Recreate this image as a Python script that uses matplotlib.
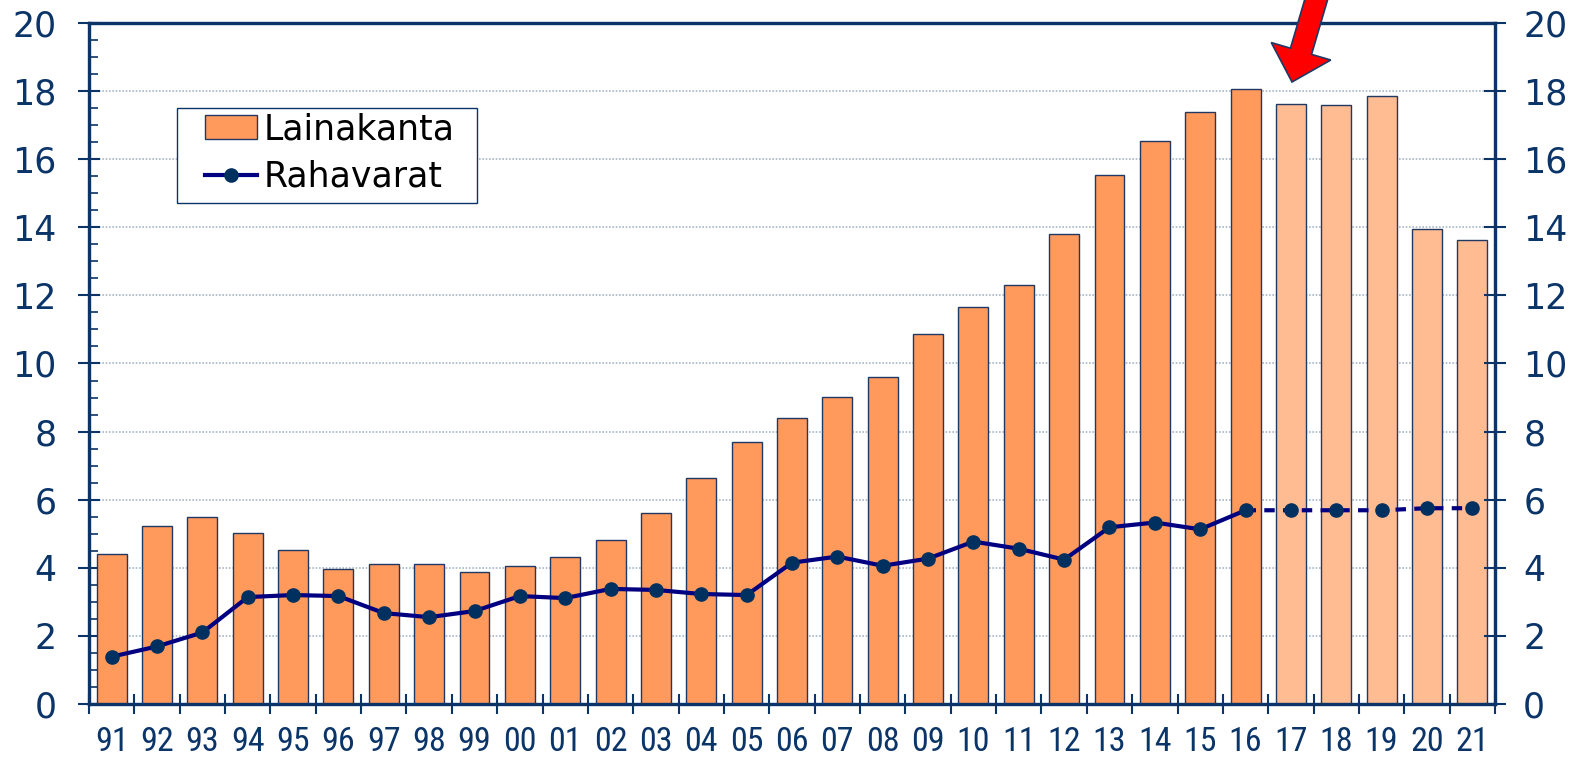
import matplotlib
matplotlib.use("Agg")
import matplotlib.pyplot as plt
from matplotlib.patches import FancyArrow, Patch, Rectangle
from matplotlib.lines import Line2D
from matplotlib.transforms import IdentityTransform
from matplotlib import font_manager
import numpy as np

years = ["91", "92", "93", "94", "95", "96", "97", "98", "99", "00", "01", "02", "03", "04",
         "05", "06", "07", "08", "09", "10", "11", "12", "13", "14", "15", "16", "17", "18",
         "19", "20", "21"]
lainakanta = [4.41, 5.24, 5.48, 5.01, 4.53, 3.97, 4.12, 4.12, 3.88, 4.06, 4.33, 4.83, 5.60, 6.64,
              7.70, 8.41, 9.01, 9.60, 10.87, 11.67, 12.30, 13.81, 15.53, 16.53, 17.39, 18.07,
              17.63, 17.60, 17.87, 13.96, 13.63]
rahavarat = [1.39, 1.69, 2.10, 3.14, 3.20, 3.17, 2.67, 2.55, 2.73, 3.17, 3.11, 3.38, 3.35, 3.23,
             3.20, 4.15, 4.33, 4.06, 4.27, 4.77, 4.56, 4.24, 5.19, 5.33, 5.13, 5.69, 5.69, 5.69,
             5.69, 5.75, 5.75]
n_actual = 26  # 91..16 actual, 17..21 forecast

NAVY = "#0B3468"
BAR_DARK = "#FF9A5C"
BAR_LIGHT = "#FFBB92"
BAR_EDGE = "#1F3864"
LINE = "#000080"
MARK = "#00305F"

names = {f.name for f in font_manager.fontManager.ttflist}
narrow = None
for cand in ["Liberation Sans Narrow", "Arial Narrow", "Roboto Condensed", "Open Sans Condensed",
             "DejaVu Sans Condensed"]:
    if cand in names:
        narrow = cand
        break

W, H = 1584, 760
fig = plt.figure(figsize=(W/100, H/100), dpi=100)
AX_L, AX_R, AX_T, AX_B = 89, 1495, 23, 704
ax = fig.add_axes([AX_L/W, 1 - AX_B/H, (AX_R-AX_L)/W, (AX_B-AX_T)/H])

def ax_frac(px, py):
    return ((px - AX_L) / (AX_R - AX_L), (AX_B - py) / (AX_B - AX_T))

x = np.arange(len(years))
colors = [BAR_DARK if i < n_actual else BAR_LIGHT for i in range(len(years))]
ax.bar(x, lainakanta, width=0.66, color=colors, edgecolor=BAR_EDGE, linewidth=1.0, zorder=2)

ax.plot(x[:n_actual], rahavarat[:n_actual], color=LINE, lw=3, zorder=3)
ax.plot(x[n_actual-1:], rahavarat[n_actual-1:], color=LINE, lw=3, ls=(0, (2.5, 2)), zorder=3)
ax.plot(x, rahavarat, ls="none", marker="o", ms=9.5, color=MARK, zorder=4)

ax.set_xlim(-0.5, len(years) - 0.5)
ax.set_ylim(0, 20)
ax.set_yticks(np.arange(0, 21, 2))
ax.set_yticks(np.arange(0, 20.01, 0.5), minor=True)
ax.yaxis.grid(True, which="major", ls=(0, (1, 1)), color="#A9B6C8", lw=1.2, zorder=0)
ax.set_axisbelow(True)

ax.set_xticks(np.arange(-0.5, len(years), 1.0))
ax.set_xticklabels([])
ax.set_xticks(x, minor=True)
if narrow:
    ax.set_xticklabels(years, minor=True, family=[narrow, "DejaVu Sans"], fontsize=24.5,
                       color=NAVY)
else:
    ax.set_xticklabels(years, minor=True, family="DejaVu Sans", fontstretch="condensed",
                       fontsize=24.5, color=NAVY)
ax.tick_params(axis="x", which="major", direction="inout", length=15, width=1.5, color=NAVY)
ax.tick_params(axis="x", which="minor", length=0, pad=16)

ax.tick_params(axis="y", which="major", direction="inout", length=16.5, width=1.5, color=NAVY,
               labelsize=25, labelcolor=NAVY, pad=15)
ax.tick_params(axis="y", which="minor", direction="in", length=6.5, width=1.2, color=NAVY)

for s in ax.spines.values():
    s.set_color(NAVY)
    s.set_linewidth(2.3)

ax2 = ax.twinx()
ax2.set_ylim(0, 20)
ax2.set_yticks(np.arange(0, 21, 2))
ax2.tick_params(axis="y", which="major", direction="inout", length=16.5, width=1.5, color=NAVY,
                labelsize=25, labelcolor=NAVY, pad=12)
for s in ax2.spines.values():
    s.set_color(NAVY)
    s.set_linewidth(2.3)

# legend frame drawn separately
fx0, fy0 = ax_frac(177, 203)
fx1, fy1 = ax_frac(477, 108)
ax.add_patch(Rectangle((fx0, fy0), fx1 - fx0, fy1 - fy0, transform=ax.transAxes,
                       facecolor="white", edgecolor=NAVY, linewidth=1.0, zorder=5))

handles = [Patch(facecolor=BAR_DARK, edgecolor=BAR_EDGE, linewidth=1.0),
           Line2D([0], [0], color=LINE, lw=3, marker="o", ms=9.5, markerfacecolor=MARK,
                  markeredgecolor=MARK)]
leg = ax.legend(handles, ["Lainakanta", "Rahavarat"], loc="upper left",
                bbox_to_anchor=ax_frac(205, 112), fontsize=25,
                frameon=False, handlelength=1.5, handletextpad=0.2, borderpad=0,
                labelspacing=0.4, borderaxespad=0)
leg.set_zorder(6)

# red arrow pointing to 2017
tip = (1292, H - 82)
tail = (1319, H + 10)
arrow = FancyArrow(tail[0], tail[1], tip[0] - tail[0], tip[1] - tail[1], width=22,
                   head_width=62, head_length=32, length_includes_head=True,
                   facecolor="#FF0000", edgecolor="#1F3864", linewidth=1.2,
                   transform=IdentityTransform(), zorder=10)
fig.add_artist(arrow)

fig.savefig("out.png", dpi=100)
